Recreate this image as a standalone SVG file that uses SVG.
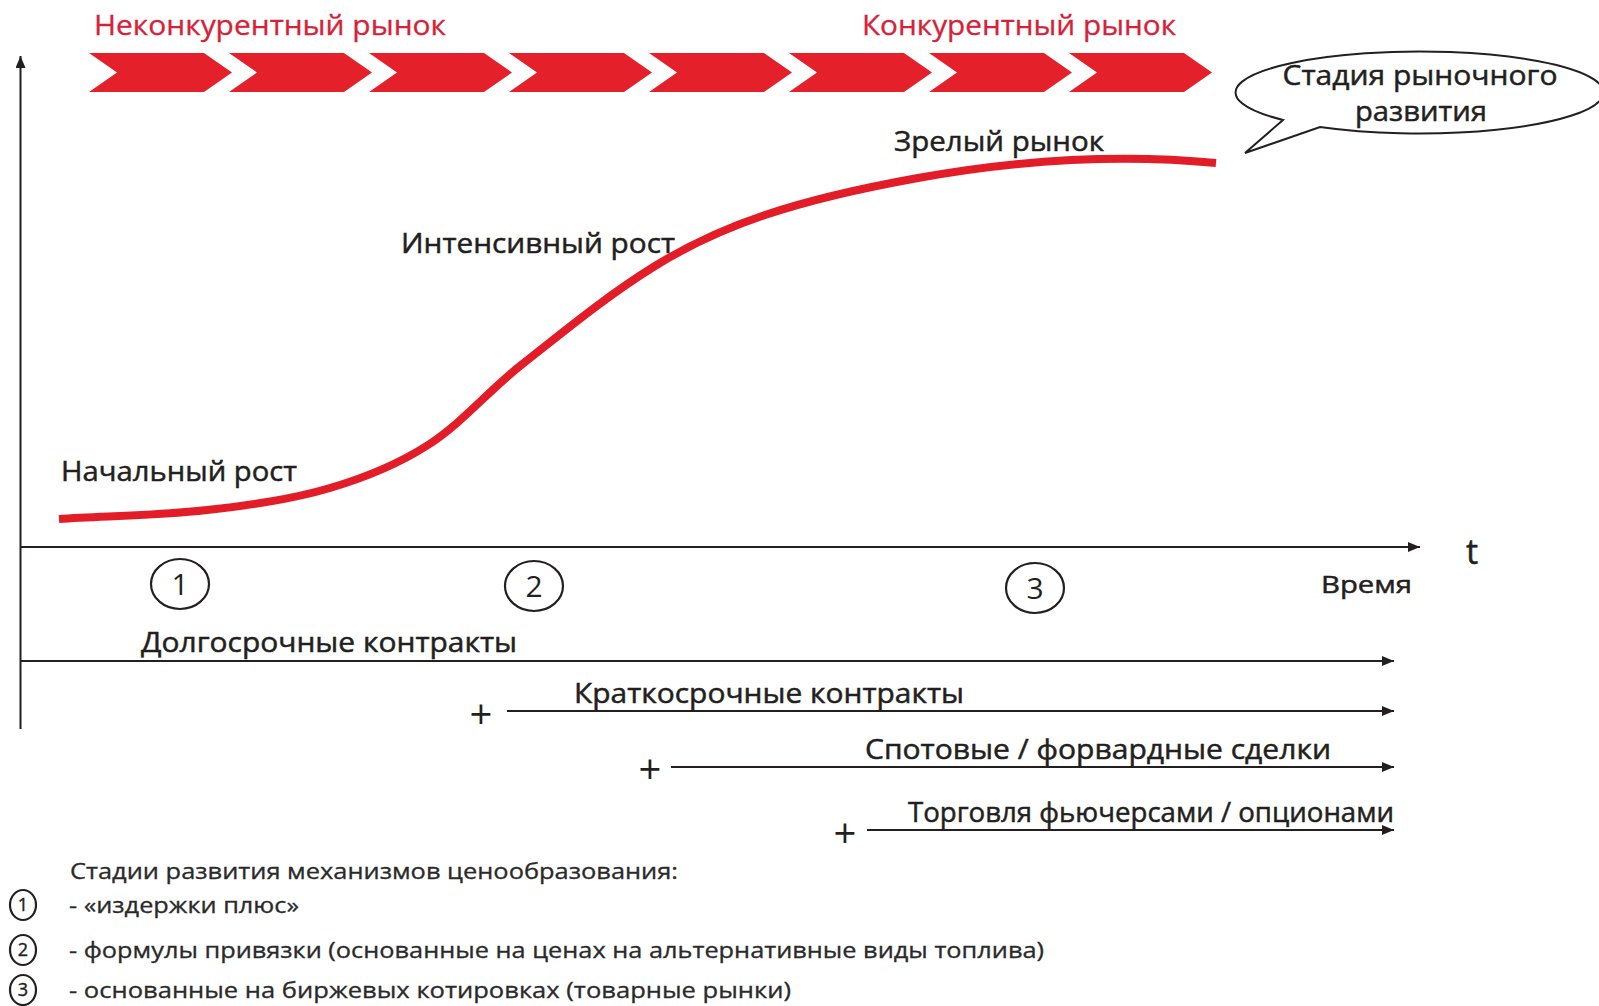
<svg xmlns="http://www.w3.org/2000/svg" xmlns:xlink="http://www.w3.org/1999/xlink" width="1599" height="1006" viewBox="0 0 1599 1006">
<defs>
<style>
.lbl{font-family:"Open Sans","Liberation Sans",sans-serif;font-size:28px;fill:#231f20;stroke:#231f20;stroke-width:0.5}
.red{font-family:"Open Sans","Liberation Sans",sans-serif;font-size:27px;fill:#d52238;stroke:#d52238;stroke-width:0.3}
.leg{font-family:"Open Sans","Liberation Sans",sans-serif;font-size:21px;fill:#2a2a2a;stroke:#2a2a2a;stroke-width:0.3}
.num{font-family:"Open Sans","Liberation Sans",sans-serif;font-size:30px;fill:#231f20;text-anchor:middle}
.snum{font-family:"Open Sans","Liberation Sans",sans-serif;font-size:18px;fill:#231f20;text-anchor:middle;stroke:#231f20;stroke-width:0.4}
.plus{font-family:"Open Sans","Liberation Sans",sans-serif;font-size:40px;fill:#231f20;text-anchor:middle}
.ax{stroke:#231f20;stroke-width:2;fill:none}
.ln{stroke:#231f20;stroke-width:1.8;fill:none}
.circ{stroke:#231f20;stroke-width:2.2;fill:none}
.chev{fill:#e4202a}
</style>
<marker id="ah" viewBox="0 0 12 10" refX="12" refY="5" markerWidth="13" markerHeight="10" markerUnits="userSpaceOnUse" orient="auto">
<path d="M0,0 L12,5 L0,10 z" fill="#231f20"/>
</marker>
<path id="chevron" d="M0,53 L115,53 L143,72.5 L115,92 L0,92 L28,72.5 z"/>
</defs>
<rect width="1599" height="1006" fill="#ffffff"/>

<g id="market-stages">
<text class="red" x="94" y="35" textLength="352" lengthAdjust="spacingAndGlyphs">Неконкурентный рынок</text>
<text class="red" x="862" y="35" textLength="314" lengthAdjust="spacingAndGlyphs">Конкурентный рынок</text>
<g class="chev">
<use xlink:href="#chevron" x="89"/>
<use xlink:href="#chevron" x="229"/>
<use xlink:href="#chevron" x="369"/>
<use xlink:href="#chevron" x="509"/>
<use xlink:href="#chevron" x="649"/>
<use xlink:href="#chevron" x="789"/>
<use xlink:href="#chevron" x="929"/>
<use xlink:href="#chevron" x="1069"/>
</g>
</g>

<g id="callout">
<path d="M1283,120 A184,41 0 1 1 1320,127 L1245,153 Z" fill="#ffffff" stroke="#231f20" stroke-width="2"/>
<text class="lbl" x="1420" y="85" text-anchor="middle" textLength="275" lengthAdjust="spacingAndGlyphs">Стадия рыночного</text>
<text class="lbl" x="1421" y="121" text-anchor="middle" textLength="132" lengthAdjust="spacingAndGlyphs">развития</text>
</g>

<g id="axes">
<line class="ax" x1="20.5" y1="729" x2="20.5" y2="56" marker-end="url(#ah)"/>
<line class="ax" x1="20" y1="547" x2="1420" y2="547" marker-end="url(#ah)"/>
<text class="lbl" x="1466" y="564" style="font-size:34px">t</text>
<text class="lbl" x="1321" y="593" style="font-size:24px" textLength="91" lengthAdjust="spacingAndGlyphs">Время</text>
</g>

<g id="curve">
<path d="M59,519 C108.3,516 157.9,515.6 207,510 C248.4,505.3 290,499.8 330,488 C364.2,477.9 398,464.3 428,445 C462,423.2 488.3,391 520,366 C564,331.3 607.3,295.4 655,266 C689.4,244.8 726.7,227.8 765,215 C814.8,198.3 866.3,187.3 918,178 C968.5,168.9 1019.8,162.6 1071,160 C1119.2,157.6 1167.9,158.2 1216,163" fill="none" stroke="#e31d27" stroke-width="8"/>
<text class="lbl" x="61" y="481" textLength="236" lengthAdjust="spacingAndGlyphs">Начальный рост</text>
<text class="lbl" x="401" y="253" textLength="274" lengthAdjust="spacingAndGlyphs">Интенсивный рост</text>
<text class="lbl" x="894" y="151" textLength="210" lengthAdjust="spacingAndGlyphs">Зрелый рынок</text>
</g>

<g id="stage-1">
<ellipse class="circ" cx="180" cy="584" rx="29" ry="25"/>
<text class="num" x="180" y="595">1</text>
</g>
<g id="stage-2">
<ellipse class="circ" cx="534" cy="586" rx="29" ry="25"/>
<text class="num" x="534" y="597">2</text>
</g>
<g id="stage-3">
<ellipse class="circ" cx="1035" cy="588" rx="29" ry="25"/>
<text class="num" x="1035" y="599">3</text>
</g>

<g id="contracts">
<line class="ln" x1="20" y1="661" x2="1394" y2="661" marker-end="url(#ah)"/>
<text class="lbl" x="141" y="652" textLength="376" lengthAdjust="spacingAndGlyphs">Долгосрочные контракты</text>

<text class="plus" x="481" y="729">+</text>
<line class="ln" x1="507" y1="711" x2="1394" y2="711" marker-end="url(#ah)"/>
<text class="lbl" x="574" y="703" textLength="390" lengthAdjust="spacingAndGlyphs">Краткосрочные контракты</text>

<text class="plus" x="650" y="784">+</text>
<line class="ln" x1="671" y1="767" x2="1394" y2="767" marker-end="url(#ah)"/>
<text class="lbl" x="865" y="759" textLength="466" lengthAdjust="spacingAndGlyphs">Спотовые / форвардные сделки</text>

<text class="plus" x="845" y="848">+</text>
<line class="ln" x1="867" y1="830" x2="1394" y2="830" marker-end="url(#ah)"/>
<text class="lbl" x="908" y="822" textLength="486" lengthAdjust="spacingAndGlyphs">Торговля фьючерсами / опционами</text>
</g>

<g id="legend">
<text class="leg" x="70" y="879" textLength="608" lengthAdjust="spacingAndGlyphs">Стадии развития механизмов ценообразования:</text>
<ellipse class="circ" cx="23" cy="905" rx="13" ry="15"/>
<text class="snum" x="23" y="911">1</text>
<text class="leg" x="69" y="913" textLength="230" lengthAdjust="spacingAndGlyphs">- «издержки плюс»</text>
<ellipse class="circ" cx="23" cy="950" rx="13" ry="15"/>
<text class="snum" x="23" y="956">2</text>
<text class="leg" x="69" y="958" textLength="975" lengthAdjust="spacingAndGlyphs">- формулы привязки (основанные на ценах на альтернативные виды топлива)</text>
<ellipse class="circ" cx="23" cy="990" rx="13" ry="15"/>
<text class="snum" x="23" y="996">3</text>
<text class="leg" x="69" y="998" textLength="722" lengthAdjust="spacingAndGlyphs">- основанные на биржевых котировках (товарные рынки)</text>
</g>
</svg>
